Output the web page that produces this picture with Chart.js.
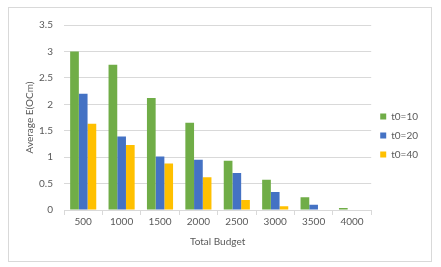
<!DOCTYPE html>
<html>
<head>
<meta charset="utf-8">
<script src="https://cdn.jsdelivr.net/npm/chart.js@4.4.0/dist/chart.umd.min.js"></script>
<style>
  html, body { margin: 0; padding: 0; background: #fff; }
  #frame {
    position: absolute; left: 8px; top: 7px;
    width: 422px; height: 253px;
    border: 1px solid #d9d9d9;
  }
</style>
</head>
<body>
<div id="frame"><canvas id="myChart" width="422" height="253"></canvas></div>
<script>
// categories along the x axis
var budgets = ['500', '1000', '1500', '2000', '2500', '3000', '3500', '4000'];

// series values
var t10 = [3.0, 2.75, 2.12, 1.65, 0.93, 0.57, 0.24, 0.04];
var t20 = [2.2, 1.39, 1.01, 0.95, 0.70, 0.34, 0.10, 0];
var t40 = [1.63, 1.23, 0.88, 0.62, 0.19, 0.07, 0, 0];

var seriesNames = ['t0=10', 't0=20', 't0=40'];
var seriesColors = ['#70AD47', '#4472C4', '#FFC000'];

var yMax = 3.5, yStep = 0.5;

var element = document.getElementById('myChart').getContext('2d');
var textColor = '#595959';
var fontFamily = 'Lato, "Open Sans", sans-serif';

var chartData = {
  labels: budgets,
  datasets: [t10, t20, t40].map(function (vals, i) {
    return {
      label: seriesNames[i],
      data: vals,
      backgroundColor: seriesColors[i],
      borderWidth: 0,
      categoryPercentage: 0.68,
      barPercentage: 1.0
    };
  })
};

var chartOptions = {
  responsive: false,
  animation: false,
  layout: { padding: { left: 0, right: 3, top: 12, bottom: 10 } },
  plugins: {
    title: { display: false },
    tooltip: { enabled: false },
    legend: {
      position: 'right',
      align: 'center',
      labels: {
        boxWidth: 6, boxHeight: 6,
        color: textColor,
        padding: 9,
        font: { family: fontFamily, size: 10 }
      }
    }
  },
  scales: {
    x: {
      afterFit: function (scale) { scale.height = 41; },
      grid: {
        display: true, offset: true, drawOnChartArea: false,
        drawTicks: true, tickLength: 5, color: '#d9d9d9'
      },
      border: { display: true, color: '#d9d9d9' },
      ticks: { color: textColor, font: { family: fontFamily, size: 10 }, padding: 1 },
      title: {
        display: true, text: 'Total Budget', color: textColor,
        font: { family: fontFamily, size: 10 }, padding: { top: 0, bottom: 3 }
      }
    },
    y: {
      min: 0, max: yMax,
      afterFit: function (scale) { scale.width = 55; },
      grid: { color: '#d9d9d9', drawTicks: false },
      border: { display: false },
      ticks: {
        stepSize: yStep, color: textColor, padding: 11,
        font: { family: fontFamily, size: 10 },
        callback: function (v) { return String(v); }
      },
      title: {
        display: true, text: 'Average E(OCm)', color: textColor,
        font: { family: fontFamily, size: 10 }, padding: { top: 15, bottom: 0 }
      }
    }
  }
};

var chart = new Chart(element, { type: 'bar', data: chartData, options: chartOptions });
</script>
</body>
</html>
